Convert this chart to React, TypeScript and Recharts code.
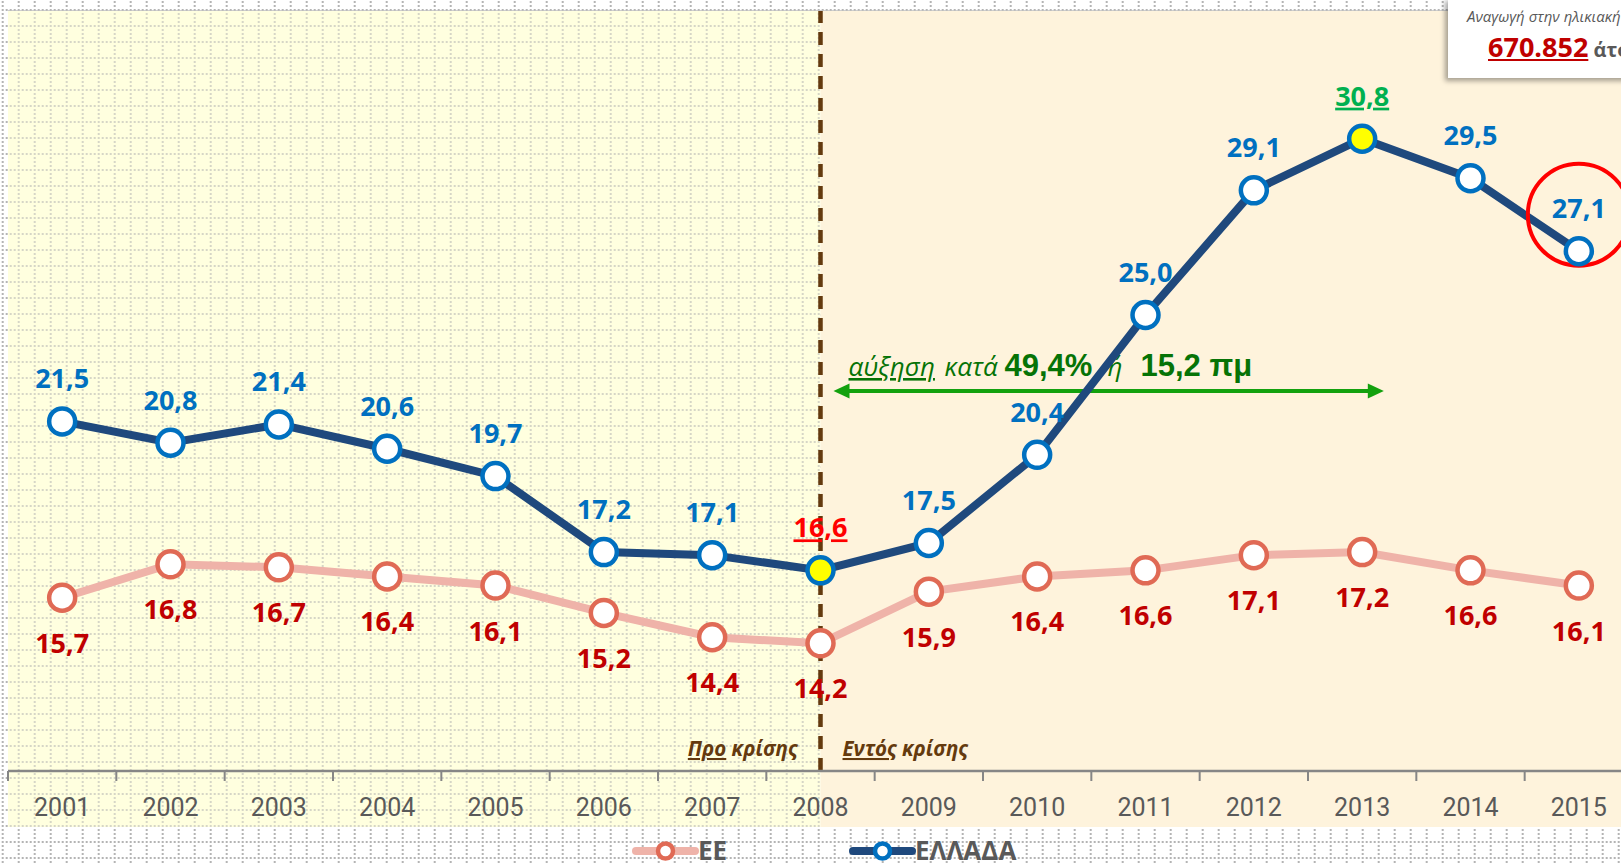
import {
  LineChart,
  Line,
  XAxis,
  YAxis,
  CartesianGrid,
  Legend,
  LabelList,
  ReferenceArea,
  ReferenceLine,
  ReferenceDot,
} from "recharts";

// Data
const YEARS = [2001, 2002, 2003, 2004, 2005, 2006, 2007, 2008, 2009, 2010, 2011, 2012, 2013, 2014, 2015];
const GREECE = [21.5, 20.8, 21.4, 20.6, 19.7, 17.2, 17.1, 16.6, 17.5, 20.4, 25.0, 29.1, 30.8, 29.5, 27.1];
const EU = [15.7, 16.8, 16.7, 16.4, 16.1, 15.2, 14.4, 14.2, 15.9, 16.4, 16.6, 17.1, 17.2, 16.6, 16.1];
const Y_TICKS = [10, 12.5, 15, 17.5, 20, 22.5, 25, 27.5, 30, 32.5, 35];
const CRISIS_YEAR = 2008;
const PEAK_YEAR = 2013;
const ARROW_LEVEL = 22.5;
const CIRCLE_LEVEL = 28.3;

const data = YEARS.map((year, i) => ({ year, eu: EU[i], greece: GREECE[i] }));

// layout
const PAGE_W = 1621;
const PAGE_H = 863;
const CHART_W = 1645;
const MARGIN = { top: 11, right: 12, left: 8, bottom: 36 };
const XAXIS_H = 56;
const PLOT_W = CHART_W - MARGIN.left - MARGIN.right;
const HALF_BAND = PLOT_W / YEARS.length / 2;

const GREECE_LINE = "#1F497D";
const GREECE_MARK = "#0070C0";
const EU_LINE = "#EFB3A9";
const EU_MARK = "#E06A55";
const BROWN = "#643A0E";
const TEXT_FONT = "'Open Sans', sans-serif";

const fmt = (v: number) => v.toFixed(1).replace(".", ",");

const YearTick = (props: any) => {
  const { x, y, payload } = props;
  return (
    <g>
      <line x1={x - HALF_BAND} y1={y} x2={x - HALF_BAND} y2={y + 10} stroke="#868686" strokeWidth={2} />
      <text x={x} y={y + 45} textAnchor="middle" fontFamily="Roboto, sans-serif" fontSize={25} fill="#595959">
        {payload.value}
      </text>
    </g>
  );
};

const greeceDot = (p: any) => {
  const hi = p.payload.year === CRISIS_YEAR || p.payload.year === PEAK_YEAR;
  return (
    <circle key={`g-${p.index}`} cx={p.cx} cy={p.cy} r={13} fill={hi ? "#FFFF00" : "#FFFFFF"} stroke={GREECE_MARK} strokeWidth={4.5} />
  );
};

const euDot = (p: any) => (
  <circle key={`e-${p.index}`} cx={p.cx} cy={p.cy} r={13} fill="#FFFFFF" stroke={EU_MARK} strokeWidth={4.5} />
);

const GreeceLabel = (props: any) => {
  const { x, y, value, index } = props;
  const year = YEARS[index];
  let fill = GREECE_MARK;
  let deco: string | undefined;
  if (year === CRISIS_YEAR) {
    fill = "#FF0000";
    deco = "underline";
  } else if (year === PEAK_YEAR) {
    fill = "#00B050";
    deco = "underline";
  }
  return (
    <text x={x} y={y - 33} textAnchor="middle" fontFamily={TEXT_FONT} fontWeight="bold" fontSize={27} fill={fill} style={{ textDecoration: deco }}>
      {fmt(value)}
    </text>
  );
};

const EuLabel = (props: any) => {
  const { x, y, value } = props;
  return (
    <text x={x} y={y + 55} textAnchor="middle" fontFamily={TEXT_FONT} fontWeight="bold" fontSize={27} fill="#C00000">
      {fmt(value)}
    </text>
  );
};

// background bands reach down through the tick label strip
const bandShape = (fill: string, dots: boolean) => (p: any) => (
  <g>
    <rect x={p.x} y={p.y} width={p.width} height={p.height + XAXIS_H} fill={fill} />
    {dots && <rect x={p.x} y={p.y} width={p.width} height={p.height + XAXIS_H} fill="url(#dotsLight)" />}
  </g>
);

const arrowShape = (p: any) => {
  const { x1, y1, x2, y2 } = p;
  const h = 16;
  const w = 7.5;
  const c = "#13A10E";
  return (
    <g>
      <line x1={x1 + h - 2} y1={y1} x2={x2 - h + 2} y2={y2} stroke={c} strokeWidth={4} />
      <polygon points={`${x1},${y1} ${x1 + h},${y1 - w} ${x1 + h},${y1 + w}`} fill={c} />
      <polygon points={`${x2},${y2} ${x2 - h},${y2 - w} ${x2 - h},${y2 + w}`} fill={c} />
    </g>
  );
};

const growthLabel = (props: any) => {
  const vb = props.viewBox || {};
  const x0 = vb.x + 15;
  const y0 = vb.y - 15;
  const green = "#067306";
  return (
    <text y={y0} fill={green} fontFamily={TEXT_FONT}>
      <tspan x={x0} fontStyle="italic" fontSize={26} style={{ textDecoration: "underline" }}>αύξηση</tspan>
      <tspan x={x0 + 96} fontStyle="italic" fontSize={26}>κατά</tspan>
      <tspan x={x0 + 156} fontWeight="bold" fontSize={31} fontFamily="'Liberation Sans', Arial, sans-serif">49,4%</tspan>
      <tspan x={x0 + 259} fontStyle="italic" fontSize={26}>ή</tspan>
      <tspan x={x0 + 292} fontWeight="bold" fontSize={31} fontFamily="'Liberation Sans', Arial, sans-serif">15,2 πμ</tspan>
    </text>
  );
};

const crisisLabel = (props: any) => {
  const vb = props.viewBox || {};
  const x = vb.x;
  const y = vb.y + vb.height - 15;
  const common = { fontFamily: TEXT_FONT, fontSize: 20.5, fontWeight: "bold" as const, fontStyle: "italic", fill: BROWN };
  return (
    <g>
      <text x={x - 23} y={y} textAnchor="end" {...common}>
        <tspan style={{ textDecoration: "underline" }}>Προ</tspan> κρίσης
      </text>
      <text x={x + 22} y={y} textAnchor="start" {...common}>
        <tspan style={{ textDecoration: "underline" }}>Εντός</tspan> κρίσης
      </text>
    </g>
  );
};

const LEGEND_STYLE: Record<string, { x: number; line: string; mark: string }> = {
  eu: { x: 636, line: EU_LINE, mark: EU_MARK },
  greece: { x: 853, line: GREECE_LINE, mark: GREECE_MARK },
};

const renderLegend = (props: any) => {
  const payload = props.payload || [];
  return (
    <svg width={CHART_W} height={31} style={{ display: "block" }}>
      {payload.map((item: any) => {
        const s = LEGEND_STYLE[item.dataKey];
        if (!s) return null;
        return (
          <g key={item.dataKey}>
            <line x1={s.x} y1={19} x2={s.x + 59} y2={19} stroke={s.line} strokeWidth={8} strokeLinecap="round" />
            <circle cx={s.x + 29.5} cy={19} r={7.5} fill="#FFFFFF" stroke={s.mark} strokeWidth={4.5} />
            <text x={s.x + 62} y={28} fontFamily={TEXT_FONT} fontWeight="bold" fontSize={26} fill="#595959">
              {item.value}
            </text>
          </g>
        );
      })}
    </svg>
  );
};

export default function App() {
  return (
    <div style={{ position: "absolute", left: 0, top: 0, width: PAGE_W, height: PAGE_H, overflow: "hidden", background: "#FFFFFF" }}>
      {/* slide grid behind everything */}
      <svg width={PAGE_W} height={PAGE_H} style={{ position: "absolute", left: 0, top: 0 }}>
        <defs>
          <pattern id="dotsPage" patternUnits="userSpaceOnUse" x={1.7} y={9} width={16} height={16}>
            <rect x={0} y={0} width={2} height={2} fill="#B4B4B4" />
            <rect x={0} y={4} width={2} height={2} fill="#B4B4B4" />
            <rect x={0} y={8} width={2} height={2} fill="#B4B4B4" />
            <rect x={0} y={12} width={2} height={2} fill="#B4B4B4" />
            <rect x={4} y={0} width={2} height={2} fill="#B4B4B4" />
            <rect x={8} y={0} width={2} height={2} fill="#B4B4B4" />
            <rect x={12} y={0} width={2} height={2} fill="#B4B4B4" />
          </pattern>
        </defs>
        <rect x={0} y={0} width={PAGE_W} height={PAGE_H} fill="url(#dotsPage)" />
      </svg>

      <div style={{ position: "absolute", left: 0, top: 0 }}>
        <LineChart width={CHART_W} height={PAGE_H} data={data} margin={MARGIN}>
          <defs>
            <pattern id="dotsLight" patternUnits="userSpaceOnUse" x={1.7} y={9} width={16} height={16}>
              <rect x={0} y={0} width={2} height={2} fill="#D6D6C6" />
              <rect x={0} y={4} width={2} height={2} fill="#D6D6C6" />
              <rect x={0} y={8} width={2} height={2} fill="#D6D6C6" />
              <rect x={0} y={12} width={2} height={2} fill="#D6D6C6" />
              <rect x={4} y={0} width={2} height={2} fill="#D6D6C6" />
              <rect x={8} y={0} width={2} height={2} fill="#D6D6C6" />
              <rect x={12} y={0} width={2} height={2} fill="#D6D6C6" />
            </pattern>
          </defs>
          <ReferenceArea x1={YEARS[0] - 0.5} x2={CRISIS_YEAR} shape={bandShape("#FFFFDF", true)} ifOverflow="visible" />
          <ReferenceArea x1={CRISIS_YEAR} x2={YEARS[YEARS.length - 1] + 0.5} shape={bandShape("#FEF3DC", false)} ifOverflow="visible" />
          <CartesianGrid vertical={false} stroke="#BFBFBF" strokeWidth={1.3} />
          <XAxis
            dataKey="year"
            type="number"
            domain={[YEARS[0] - 0.5, YEARS[YEARS.length - 1] + 0.5]}
            ticks={YEARS}
            interval={0}
            height={XAXIS_H}
            tickSize={0}
            tickMargin={0}
            tickLine={false}
            axisLine={{ stroke: "#868686", strokeWidth: 2.5 }}
            tick={<YearTick />}
          />
          <YAxis type="number" domain={[10, 35]} ticks={Y_TICKS} hide />
          <ReferenceLine
            x={CRISIS_YEAR}
            stroke={BROWN}
            strokeWidth={4.5}
            strokeDasharray="13 9"
            label={crisisLabel}
          />
          <ReferenceLine
            segment={[
              { x: CRISIS_YEAR + 0.12, y: ARROW_LEVEL },
              { x: PEAK_YEAR + 0.2, y: ARROW_LEVEL },
            ]}
            shape={arrowShape}
            label={growthLabel}
          />
          <Legend
            verticalAlign="middle"
            align="center"
            layout="horizontal"
            wrapperStyle={{ top: 832, left: 0, width: CHART_W }}
            content={renderLegend}
          />
          <Line
            type="linear"
            dataKey="eu"
            name="ΕΕ"
            stroke={EU_LINE}
            strokeWidth={8}
            dot={euDot}
            activeDot={false}
            isAnimationActive={false}
          >
            <LabelList dataKey="eu" content={EuLabel} />
          </Line>
          <Line
            type="linear"
            dataKey="greece"
            name="ΕΛΛΑΔΑ"
            stroke={GREECE_LINE}
            strokeWidth={8}
            dot={greeceDot}
            activeDot={false}
            isAnimationActive={false}
          >
            <LabelList dataKey="greece" content={GreeceLabel} />
          </Line>
          <ReferenceDot x={YEARS[YEARS.length - 1]} y={CIRCLE_LEVEL} r={51} fill="none" stroke="#FF0000" strokeWidth={4} />
        </LineChart>
      </div>

      {/* note box in the top right corner */}
      <div
        style={{
          position: "absolute",
          left: 1448,
          top: -2,
          width: 200,
          height: 80,
          background: "#FFFFFF",
          boxShadow: "-3px 3px 5px rgba(0,0,0,0.35)",
          fontFamily: TEXT_FONT,
          whiteSpace: "nowrap",
        }}
      >
        <div style={{ position: "absolute", left: 19, top: 8, fontSize: 15, fontStyle: "italic", color: "#595959" }}>
          Αναγωγή στην ηλικιακή ομάδα
        </div>
        <div style={{ position: "absolute", left: 40, top: 30, color: "#595959", fontWeight: "bold", fontSize: 20 }}>
          <span style={{ color: "#C00000", fontSize: 27, textDecoration: "underline" }}>670.852</span> άτομα
        </div>
      </div>
    </div>
  );
}
